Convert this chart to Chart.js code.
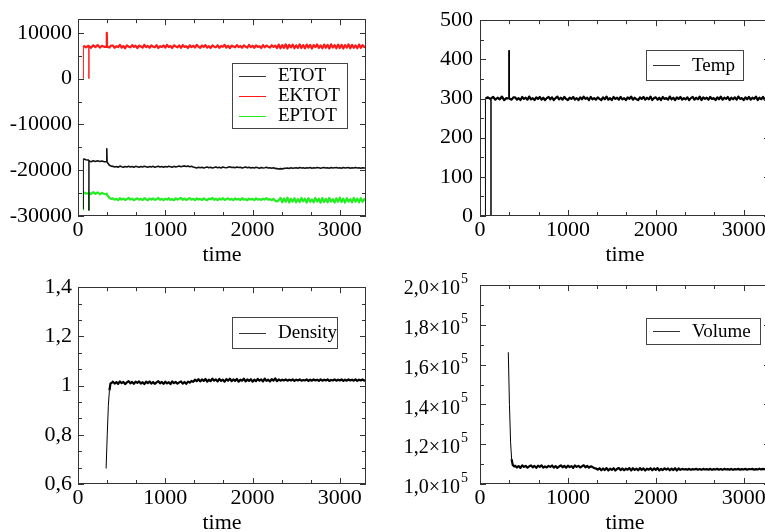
<!DOCTYPE html>
<html>
<head>
<meta charset="utf-8">
<title>MD run monitor</title>
<script src="https://cdn.jsdelivr.net/npm/chart.js@4.4.1/dist/chart.umd.min.js"></script>
<style>
  html, body { margin: 0; padding: 0; background: #fff; overflow: hidden; width: 765px; height: 532px; }
  body { position: relative; }
  canvas { position: absolute; }
</style>
</head>
<body>
<canvas id="energy" width="380" height="268" style="left:0;top:0"></canvas>
<canvas id="temp" width="400" height="268" style="left:380px;top:0"></canvas>
<canvas id="density" width="380" height="268" style="left:0;top:268px"></canvas>
<canvas id="volume" width="400" height="268" style="left:380px;top:268px"></canvas>
<script>
// ----------------------------------
// Data
// ----------------------------------
const timeTicks = [0, 1000, 2000, 3000];
const energyTicks = [-30000, -20000, -10000, 0, 10000];
const tempTicks = [0, 100, 200, 300, 400, 500];
const densityTicks = [0.6, 0.8, 1, 1.2, 1.4];
const volumeTicks = [100000, 120000, 140000, 160000, 180000, 200000];

// common sampling after equilibration starts
const timeSampled = [
  400, 420, 440, 460, 480, 500, 520, 540, 560, 580,
  600, 620, 640, 660, 680, 700, 720, 740, 760, 780,
  800, 820, 840, 860, 880, 900, 920, 940, 960, 980,
  1000, 1020, 1040, 1060, 1080, 1100, 1120, 1140, 1160, 1180,
  1200, 1220, 1240, 1260, 1280, 1300, 1320, 1340, 1360, 1380,
  1400, 1420, 1440, 1460, 1480, 1500, 1520, 1540, 1560, 1580,
  1600, 1620, 1640, 1660, 1680, 1700, 1720, 1740, 1760, 1780,
  1800, 1820, 1840, 1860, 1880, 1900, 1920, 1940, 1960, 1980,
  2000, 2020, 2040, 2060, 2080, 2100, 2120, 2140, 2160, 2180,
  2200, 2220, 2240, 2260, 2280, 2300, 2320, 2340, 2360, 2380,
  2400, 2420, 2440, 2460, 2480, 2500, 2520, 2540, 2560, 2580,
  2600, 2620, 2640, 2660, 2680, 2700, 2720, 2740, 2760, 2780,
  2800, 2820, 2840, 2860, 2880, 2900, 2920, 2940, 2960, 2980,
  3000, 3020, 3040, 3060, 3080, 3100, 3120, 3140, 3160, 3180,
  3200, 3220, 3240, 3260, 3280, 3300];

// heating run (energies, temperature): start, restart, spike
const timeMd = [62, 62, 90, 125, 125, 125, 150, 175, 200, 225, 250, 275, 300, 328, 330, 333, 360, 380]
  .concat(timeSampled);

const ektot = [0, 7200, 6850, 7250, 0, 7100, 6750, 7300, 6900, 7350, 6800, 7200, 6950, 7000, 10000, 7000, 6800, 7250,
  7250, 6750, 7100, 6900, 7400, 6800, 7150, 6650, 7300, 7000,
  6850, 7350, 6950, 7200, 6700, 7250, 7050, 6800, 7400, 6900,
  7150, 6750, 7300, 7000, 6850, 7350, 6700, 7100, 6950, 7250,
  6800, 7400, 6900, 7150, 6700, 7300, 7050, 6850, 7250, 6750,
  7350, 6950, 7100, 6700, 7300, 6900, 7200, 6800, 7400, 7000,
  6750, 7250, 6950, 7350, 6800, 7100, 6700, 7300, 7000, 6850,
  7300, 6750, 7150, 6950, 7400, 6800, 7200, 6700, 7250, 7050,
  6850, 7350, 6900, 7150, 6750, 7300, 7000, 6800, 7400, 6900,
  7200, 6750, 7300, 6950, 7100, 6700, 7350, 6850, 7250, 7000,
  6800, 7300, 6950, 7200, 6700, 7450, 6650, 7350, 6750, 7500,
  6600, 7400, 6850, 7450, 6650, 7300, 6750, 7500, 6700, 7350,
  6650, 7450, 6800, 7400, 6600, 7350, 6900, 7500, 6700, 7300,
  6650, 7450, 6750, 7400, 6600, 7500, 6800, 7350, 6650, 7450,
  6700, 7400, 6600, 7350, 6800, 7500, 6650, 7400, 6750, 7300,
  6650, 7450, 6750, 7350, 6900, 7100];

const etot = [-28500, -17500, -17700, -17800, -28800, -18000, -18150, -17950, -18100, -17950, -18100, -18000, -18150, -18100, -15300, -18200, -18900, -19100,
  -19150, -19300, -19200, -19350, -19100, -19250, -19350, -19200, -19300, -19150,
  -19300, -19200, -19350, -19150, -19250, -19350, -19200, -19300, -19150, -19250,
  -19350, -19200, -19300, -19150, -19350, -19250, -19150, -19300, -19200, -19350,
  -19200, -19300, -19150, -19250, -19350, -19150, -19300, -19200, -19100, -19250,
  -19150, -19050, -19200, -19100, -19250, -19150, -19300, -19400, -19500, -19350,
  -19450, -19350, -19500, -19400, -19300, -19450, -19350, -19500, -19400, -19300,
  -19450, -19350, -19500, -19300, -19400, -19450, -19350, -19250, -19400, -19350,
  -19450, -19300, -19400, -19350, -19500, -19400, -19300, -19450, -19350, -19500,
  -19400, -19500, -19350, -19450, -19550, -19400, -19500, -19450, -19350, -19500,
  -19450, -19550, -19450, -19600, -19650, -19750, -19650, -19700, -19600, -19550,
  -19500, -19600, -19450, -19550, -19500, -19450, -19550, -19400, -19500, -19450,
  -19550, -19450, -19500, -19400, -19550, -19450, -19500, -19400, -19450, -19550,
  -19450, -19400, -19500, -19450, -19550, -19400, -19500, -19450, -19400, -19500,
  -19450, -19550, -19400, -19500, -19450, -19400, -19550, -19450, -19500, -19400,
  -19500, -19450, -19550, -19450, -19500, -19500];

const eptot = [-28800, -24800, -25100, -25000, -28800, -24900, -25200, -24800, -25150, -24850, -25250, -24950, -25200, -25300, -25100, -25400, -26000, -26250,
  -26150, -26450, -26250, -26550, -26100, -26400, -26200, -26500, -26300, -26050,
  -26400, -26200, -26550, -26300, -26150, -26450, -26250, -26500, -26100, -26350,
  -26550, -26200, -26400, -26150, -26500, -26300, -26050, -26450, -26250, -26550,
  -26200, -26400, -26100, -26500, -26300, -26550, -26150, -26400, -26250, -26050,
  -26450, -26200, -26500, -26300, -26100, -26450, -26250, -26550, -26150, -26400,
  -26250, -26500, -26150, -26400, -26550, -26200, -26350, -26050, -26450, -26250,
  -26550, -26200, -26400, -26100, -26500, -26300, -26150, -26450, -26250, -26550,
  -26150, -26400, -26250, -26500, -26100, -26450, -26300, -26550, -26200, -26400,
  -26250, -26550, -26150, -26450, -26300, -26500, -26200, -26400, -26100, -26450,
  -26300, -26550, -26250, -26650, -26800, -26550, -26050, -27000, -26150, -26900,
  -26000, -27050, -26250, -26850, -26100, -27000, -26300, -26950, -26050, -26800,
  -26200, -27050, -26100, -26900, -26350, -27000, -26050, -26850, -26200, -27100,
  -26100, -26950, -26250, -27000, -26050, -26850, -26300, -27050, -26150, -26900,
  -26000, -26950, -26200, -27100, -26100, -26850, -26300, -27000, -26050, -26900,
  -26200, -27000, -26100, -26900, -26300, -26700];

const temp = [0, 300, 303, 298, 0, 300, 304, 297, 302, 298, 305, 296, 301, 300, 423, 300, 297, 303,
  303, 297, 301, 296, 304, 299, 302, 297, 305, 298,
  301, 296, 303, 299, 304, 297, 302, 296, 301, 304,
  298, 303, 296, 301, 305, 298, 302, 297, 304, 299,
  296, 302, 299, 304, 297, 301, 296, 303, 298, 305,
  299, 302, 296, 304, 298, 301, 297, 303, 299, 296,
  303, 298, 305, 297, 301, 296, 304, 299, 302, 297,
  304, 298, 301, 296, 303, 299, 305, 297, 302, 298,
  296, 303, 299, 304, 297, 302, 298, 305, 296, 301,
  303, 297, 302, 296, 304, 299, 301, 297, 305, 298,
  302, 296, 303, 299, 304, 297, 301, 298, 303, 296,
  301, 304, 297, 302, 298, 305, 296, 303, 299, 302,
  297, 304, 299, 301, 296, 303, 298, 305, 297, 302,
  299, 304, 296, 302, 298, 303, 297, 305, 299, 301,
  296, 303, 298, 304, 297, 302, 299, 305, 296, 302,
  298, 304, 297, 302, 299, 301];

// NPT run (density, volume)
const timeNpt = [322, 335, 348, 360, 372, 390].concat(timeSampled);

const density = [0.663, 0.80, 0.92, 0.98, 1.008, 1.013,
  1.016, 1.008, 1.014, 1.007, 1.017, 1.010, 1.015, 1.006, 1.013, 1.018,
  1.009, 1.015, 1.007, 1.016, 1.011, 1.017, 1.008, 1.014, 1.006, 1.016,
  1.010, 1.017, 1.008, 1.015, 1.007, 1.013, 1.018, 1.009, 1.015, 1.007,
  1.016, 1.009, 1.014, 1.006, 1.017, 1.010, 1.015, 1.008, 1.013, 1.017,
  1.008, 1.015, 1.007, 1.016, 1.012, 1.019, 1.015, 1.024, 1.018, 1.026,
  1.017, 1.025, 1.019, 1.027, 1.016, 1.024, 1.018, 1.028, 1.020, 1.025,
  1.017, 1.027, 1.019, 1.024, 1.016, 1.026, 1.020, 1.028, 1.018, 1.025,
  1.019, 1.027, 1.016, 1.024, 1.020, 1.028, 1.017, 1.025, 1.019, 1.026,
  1.016, 1.024, 1.018, 1.027, 1.020, 1.025, 1.017, 1.028, 1.019, 1.024,
  1.017, 1.026, 1.020, 1.029, 1.018, 1.025, 1.020, 1.024, 1.021, 1.025,
  1.020, 1.024, 1.021, 1.025, 1.019, 1.024, 1.021, 1.025, 1.020, 1.023,
  1.021, 1.025, 1.019, 1.024, 1.020, 1.025, 1.021, 1.024, 1.019, 1.025,
  1.020, 1.024, 1.021, 1.025, 1.019, 1.023, 1.021, 1.025, 1.020, 1.024,
  1.021, 1.025, 1.019, 1.024, 1.020, 1.025, 1.021, 1.024, 1.020, 1.025,
  1.019, 1.024, 1.021, 1.025, 1.020, 1.023];

const volume = [166200, 140000, 121000, 112500, 109600, 108800,
  109200, 108300, 109000, 108100, 109400, 108600, 109100, 108200, 108900, 109300,
  108400, 109100, 108100, 109200, 108600, 109400, 108200, 108900, 108300, 109100,
  108600, 109300, 108200, 109000, 108100, 108800, 109400, 108400, 109100, 108200,
  109200, 108500, 109000, 108100, 109300, 108600, 109100, 108300, 108900, 109400,
  108400, 109100, 108200, 108900, 108500, 108000, 107800, 107200, 107900, 106900,
  107800, 107000, 108000, 106800, 107700, 107100, 107900, 106800, 107600, 108000,
  107000, 107800, 106900, 107700, 107200, 108000, 106800, 107900, 107100, 107700,
  106900, 108000, 107100, 107800, 106800, 107700, 107200, 107900, 106900, 107800,
  107100, 108000, 106800, 107600, 107000, 107900, 107200, 107800, 106900, 107700,
  107000, 107900, 106800, 107800, 107100, 107600, 107300, 107500, 107200, 107600,
  107100, 107500, 107300, 107600, 107200, 107500, 107100, 107600, 107300, 107500,
  107200, 107600, 107100, 107500, 107300, 107600, 107200, 107500, 107100, 107600,
  107300, 107500, 107200, 107600, 107100, 107500, 107300, 107600, 107200, 107500,
  107300, 107600, 107200, 107500, 107400, 107600, 107200, 107500, 107300, 107700,
  107300, 107600, 107400, 107700, 107400, 107500];

// ----------------------------------
// Helpers / plugins
// ----------------------------------
Chart.defaults.font.family = "'Liberation Serif', 'Times New Roman', serif";
Chart.defaults.color = '#000';

const series = (times, values) => times.map((t, i) => ({ x: t, y: values[i] }));

function minorValues(majors, n, min, max) {
  const step = majors[1] - majors[0];
  const sub = step / (n + 1);
  const out = [];
  for (let v = majors[0] - step; v <= max + 1e-9; v += sub) {
    if (v < min - 1e-9) continue;
    if (majors.some(m => Math.abs(m - v) < sub / 10)) continue;
    out.push(v);
  }
  return out;
}

// xmgrace-style box: frame + inward ticks on all four sides
const frameTicks = {
  id: 'frameTicks',
  afterDraw(chart, args, o) {
    const { ctx, chartArea: a, scales: { x, y } } = chart;
    ctx.save();
    ctx.strokeStyle = '#333';
    ctx.lineWidth = 1;
    ctx.strokeRect(Math.round(a.left) + 0.5, Math.round(a.top) + 0.5,
      Math.round(a.right - a.left) - 1, Math.round(a.bottom - a.top) - 1);
    const marks = (scale, values, len) => {
      values.forEach(v => {
        const p = Math.round(scale.getPixelForValue(v)) + 0.5;
        ctx.beginPath();
        if (scale.isHorizontal()) {
          ctx.moveTo(p, a.bottom); ctx.lineTo(p, a.bottom - len);
          ctx.moveTo(p, a.top); ctx.lineTo(p, a.top + len);
        } else {
          ctx.moveTo(a.left, p); ctx.lineTo(a.left + len, p);
          ctx.moveTo(a.right, p); ctx.lineTo(a.right - len, p);
        }
        ctx.stroke();
      });
    };
    marks(x, o.xMajor, 6);
    marks(x, minorValues(o.xMajor, o.xMinor, x.min, x.max), 4);
    marks(y, o.yMajor, 6);
    marks(y, minorValues(o.yMajor, o.yMinor, y.min, y.max), 4);
    ctx.restore();
  }
};

// boxed legend placed inside the plot
const boxLegend = {
  id: 'boxLegend',
  afterDraw(chart, args, o) {
    const { ctx } = chart;
    const sets = chart.data.datasets;
    ctx.save();
    ctx.fillStyle = '#fff';
    ctx.fillRect(o.x, o.y, o.w, o.h);
    ctx.strokeStyle = '#444';
    ctx.lineWidth = 1;
    ctx.strokeRect(o.x + 0.5, o.y + 0.5, o.w, o.h);
    ctx.font = "19px 'Liberation Serif', serif";
    ctx.textBaseline = 'middle';
    ctx.textAlign = 'left';
    sets.forEach((d, i) => {
      const cy = o.y + o.h / 2 + (i - (sets.length - 1) / 2) * o.rowH;
      ctx.strokeStyle = d.legendColor || d.borderColor;
      ctx.beginPath();
      ctx.moveTo(o.x + 7, Math.round(cy) + 0.5);
      ctx.lineTo(o.x + 34, Math.round(cy) + 0.5);
      ctx.stroke();
      ctx.fillStyle = '#000';
      ctx.fillText(d.label, o.x + 46, cy + 1);
    });
    ctx.restore();
  }
};

// "1,0×10^5" style labels for the volume axis
const sciLabels = {
  id: 'sciLabels',
  afterDraw(chart, args, o) {
    if (!o.ticks) return;
    const { ctx, chartArea: a, scales: { y } } = chart;
    ctx.save();
    ctx.fillStyle = '#000';
    o.ticks.forEach(v => {
      const py = y.getPixelForValue(v);
      const mant = (v / 1e5).toFixed(1).replace('.', ',');
      ctx.font = "20px 'Liberation Serif', serif";
      ctx.textAlign = 'right';
      ctx.textBaseline = 'middle';
      ctx.fillText(mant + '\u00d710', a.left - 20, py + 4);
      ctx.font = "14px 'Liberation Serif', serif";
      ctx.textAlign = 'left';
      ctx.textBaseline = 'alphabetic';
      ctx.fillText('5', a.left - 19, py - 2);
    });
    ctx.restore();
  }
};

function makePanel(id, p) {
  return new Chart(document.getElementById(id), {
    type: 'line',
    data: {
      datasets: p.datasets.map(d => ({
        label: d.label,
        data: series(p.time, d.values),
        borderColor: d.color,
        legendColor: d.legendColor,
        borderWidth: d.width || 2,
        borderJoinStyle: 'round',
        pointRadius: 0,
        tension: 0,
        fill: false,
        // steep jumps (restarts, spikes, start-up) stay hairline
        segment: { borderWidth: c => Math.abs(c.p1.y - c.p0.y) > 14 ? 1 : undefined }
      }))
    },
    options: {
      responsive: false,
      animation: false,
      events: [],
      layout: { padding: { top: p.padTop, right: p.padRight, left: 0, bottom: 0 }, autoPadding: false },
      plugins: {
        legend: { display: false },
        tooltip: { enabled: false },
        boxLegend: p.legend,
        frameTicks: { xMajor: timeTicks, xMinor: 2, yMajor: p.yTicks, yMinor: p.yMinor },
        sciLabels: { ticks: p.sci ? p.yTicks : null }
      },
      scales: {
        x: {
          type: 'linear', min: 0, max: 3300,
          grid: { display: false, drawTicks: false },
          border: { display: false },
          afterBuildTicks: s => { s.ticks = timeTicks.map(v => ({ value: v })); },
          afterFit: s => { s.height = 52; },
          ticks: { padding: 1, font: { size: 22 }, maxRotation: 0, autoSkip: false, callback: v => String(v) },
          title: { display: true, text: 'time', font: { size: 22 }, padding: 0 }
        },
        y: {
          type: 'linear', min: p.yMin, max: p.yMax,
          grid: { display: false, drawTicks: false },
          border: { display: false },
          afterBuildTicks: s => { s.ticks = p.yTicks.map(v => ({ value: v })); },
          afterFit: s => { s.width = p.yWidth; },
          ticks: {
            display: !p.sci, padding: p.yPad, font: { size: 22 }, autoSkip: false,
            callback: v => String(v).replace('.', ',')
          }
        }
      }
    },
    plugins: [frameTicks, boxLegend, sciLabels]
  });
}

// ----------------------------------
// Panels
// ----------------------------------
makePanel('energy', {
  time: timeMd,
  datasets: [
    { label: 'ETOT', values: etot, color: '#111', legendColor: '#333', width: 1.6 },
    { label: 'EKTOT', values: ektot, color: '#ff1a1a', width: 2.2 },
    { label: 'EPTOT', values: eptot, color: '#22ee22', width: 2.2 }
  ],
  yMin: -30000, yMax: 13000, yTicks: energyTicks, yMinor: 1,
  padTop: 16, padRight: 14, yWidth: 78, yPad: 6,
  legend: { x: 232, y: 63, w: 115, h: 65, rowH: 20 }
});

makePanel('temp', {
  time: timeMd,
  datasets: [{ label: 'Temp', values: temp, color: '#000', legendColor: '#333', width: 2.2 }],
  yMin: 0, yMax: 500, yTicks: tempTicks, yMinor: 1,
  padTop: 15, padRight: 10, yWidth: 100, yPad: 7,
  legend: { x: 266, y: 50, w: 97, h: 30, rowH: 20 }
});

makePanel('density', {
  time: timeNpt,
  datasets: [{ label: 'Density', values: density, color: '#000', legendColor: '#333', width: 2.2 }],
  yMin: 0.6, yMax: 1.4, yTicks: densityTicks, yMinor: 2,
  padTop: 17, padRight: 14, yWidth: 78, yPad: 6,
  legend: { x: 232, y: 49, w: 105, h: 31, rowH: 20 }
});

makePanel('volume', {
  time: timeNpt,
  datasets: [{ label: 'Volume', values: volume, color: '#000', legendColor: '#333', width: 2.2 }],
  yMin: 100000, yMax: 200000, yTicks: volumeTicks, yMinor: 1, sci: true,
  padTop: 17, padRight: 10, yWidth: 100, yPad: 7,
  legend: { x: 266, y: 50, w: 114, h: 26, rowH: 20 }
});
</script>
</body>
</html>
